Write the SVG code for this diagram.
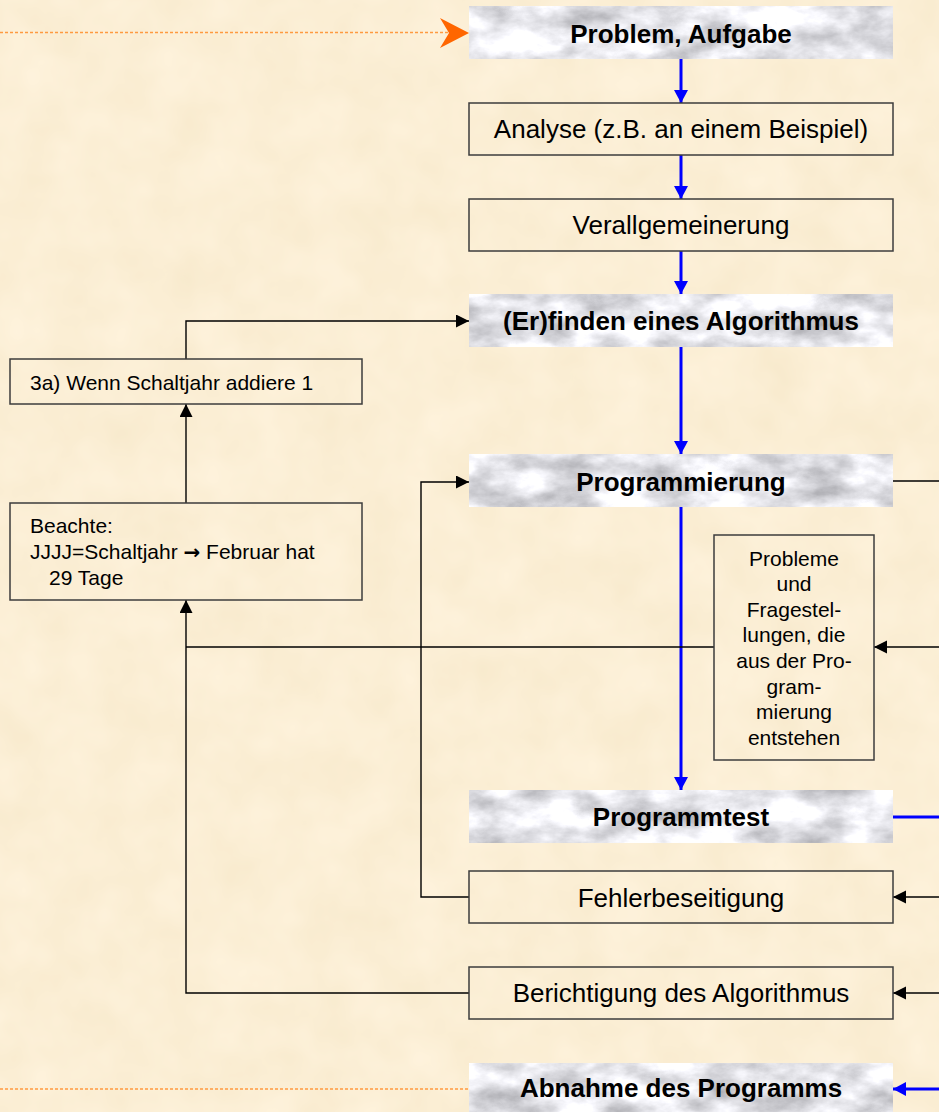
<svg xmlns="http://www.w3.org/2000/svg" width="939" height="1112" viewBox="0 0 939 1112">
<defs>
<style>
.box{fill:none;stroke:#3c3c3c;stroke-width:1.5}
.t{font-family:"Liberation Sans",Arial,sans-serif;fill:#000}
.big{font-size:26px;text-anchor:middle}
.b{font-weight:bold}
.sm{font-size:21px}
.c{text-anchor:middle}
.k{fill:none;stroke:#000;stroke-width:1.4}
.bl{fill:none;stroke:#0000ff;stroke-width:3}
.or{fill:none;stroke:#ff9a40;stroke-width:1.5;stroke-dasharray:3 2}
</style>
<filter id="marble" x="0" y="0" width="1" height="1" color-interpolation-filters="sRGB">
<feTurbulence type="fractalNoise" baseFrequency="0.02 0.035" numOctaves="5" seed="11" result="n"/>
<feColorMatrix in="n" type="matrix" values="-0.6 0 0 0 1.2  -0.6 0 0 0 1.2  -0.6 0 0 0 1.22  0 0 0 0 1" result="g"/>
<feComposite in="g" in2="SourceGraphic" operator="in"/>
</filter>
<filter id="paper" x="0" y="0" width="1" height="1" color-interpolation-filters="sRGB">
<feTurbulence type="fractalNoise" baseFrequency="0.02" numOctaves="3" seed="3" result="n"/>
<feColorMatrix in="n" type="matrix" values="0.03 0 0 0 0.97  0.04 0 0 0 0.915  0.07 0 0 0 0.8  0 0 0 0 1"/>
</filter>
<marker id="ak" markerUnits="userSpaceOnUse" markerWidth="14" markerHeight="14" refX="13" refY="6.5" orient="auto">
<path d="M0,0 L13,6.5 L0,13 Z" fill="#000"/>
</marker>
<marker id="ab" markerUnits="userSpaceOnUse" markerWidth="15" markerHeight="15" refX="13" refY="7" orient="auto">
<path d="M0,0 L13,7 L0,14 Z" fill="#0000ff"/>
</marker>
</defs>
<rect x="0" y="0" width="939" height="1112" fill="#f9ebd0" filter="url(#paper)"/>

<g id="connectors">
<path class="or" d="M0,32.5 H448"/>
<polygon points="440,18 469,33 440,48 449,33" fill="#ff6600"/>
<path class="or" d="M0,1089 H469"/>
<path class="bl" d="M681,59 V103" marker-end="url(#ab)"/>
<path class="bl" d="M681,155 V199" marker-end="url(#ab)"/>
<path class="bl" d="M681,251 V294" marker-end="url(#ab)"/>
<path class="bl" d="M681,347 V454" marker-end="url(#ab)"/>
<path class="bl" d="M681,507 V790" marker-end="url(#ab)"/>
<path class="bl" d="M893,817 H939"/>
<path class="bl" d="M939,1089 H893" marker-end="url(#ab)"/>
<path class="k" d="M893,481 H939"/>
<path class="k" d="M939,647 H874" marker-end="url(#ak)"/>
<path class="k" d="M939,897 H893" marker-end="url(#ak)"/>
<path class="k" d="M939,993 H893" marker-end="url(#ak)"/>
<path class="k" d="M469,897 H421 V482 H469" marker-end="url(#ak)"/>
<path class="k" d="M469,993 H186 V600" marker-end="url(#ak)"/>
<path class="k" d="M714,647 H186"/>
<path class="k" d="M186,503 V404" marker-end="url(#ak)"/>
<path class="k" d="M186,359 V321 H469" marker-end="url(#ak)"/>
</g>

<g id="n-problem">
<rect x="469" y="6" width="424" height="53" fill="#ccc" filter="url(#marble)"/>
<text class="t big b" x="681" y="43">Problem, Aufgabe</text>
</g>
<g id="n-analyse">
<rect class="box" x="469" y="103" width="424" height="52"/>
<text class="t big" x="681" y="138">Analyse (z.B. an einem Beispiel)</text>
</g>
<g id="n-verallgemeinerung">
<rect class="box" x="469" y="199" width="424" height="52"/>
<text class="t big" x="681" y="234">Verallgemeinerung</text>
</g>
<g id="n-algorithmus">
<rect x="469" y="294" width="424" height="53" fill="#ccc" filter="url(#marble)"/>
<text class="t big b" x="681" y="330">(Er)finden eines Algorithmus</text>
</g>
<g id="n-programmierung">
<rect x="469" y="454" width="424" height="53" fill="#ccc" filter="url(#marble)"/>
<text class="t big b" x="681" y="491">Programmierung</text>
</g>
<g id="n-programmtest">
<rect x="469" y="790" width="424" height="53" fill="#ccc" filter="url(#marble)"/>
<text class="t big b" x="681" y="826">Programmtest</text>
</g>
<g id="n-fehler">
<rect class="box" x="469" y="871" width="424" height="52"/>
<text class="t big" x="681" y="907">Fehlerbeseitigung</text>
</g>
<g id="n-berichtigung">
<rect class="box" x="469" y="967" width="424" height="52"/>
<text class="t big" x="681" y="1002">Berichtigung des Algorithmus</text>
</g>
<g id="n-abnahme">
<rect x="469" y="1063" width="424" height="53" fill="#ccc" filter="url(#marble)"/>
<text class="t big b" x="681" y="1097">Abnahme des Programms</text>
</g>
<g id="n-schaltjahr">
<rect class="box" x="10" y="359" width="352" height="45"/>
<text class="t sm" x="30" y="390">3a) Wenn Schaltjahr addiere 1</text>
</g>
<g id="n-beachte">
<rect class="box" x="10" y="503" width="352" height="97"/>
<text class="t sm" x="30" y="533">Beachte:</text>
<text class="t sm" x="30" y="559">JJJJ=Schaltjahr <tspan font-family="DejaVu Sans, sans-serif" font-weight="bold" font-size="20">→</tspan> Februar hat</text>
<text class="t sm" x="49" y="585">29 Tage</text>
</g>
<g id="n-probleme">
<rect class="box" x="714" y="535" width="160" height="225"/>
<text class="t sm c" x="794" y="566">Probleme</text>
<text class="t sm c" x="794" y="591">und</text>
<text class="t sm c" x="794" y="617">Fragestel-</text>
<text class="t sm c" x="794" y="642">lungen, die</text>
<text class="t sm c" x="794" y="668">aus der Pro-</text>
<text class="t sm c" x="794" y="694">gram-</text>
<text class="t sm c" x="794" y="719">mierung</text>
<text class="t sm c" x="794" y="745">entstehen</text>
</g>
</svg>
